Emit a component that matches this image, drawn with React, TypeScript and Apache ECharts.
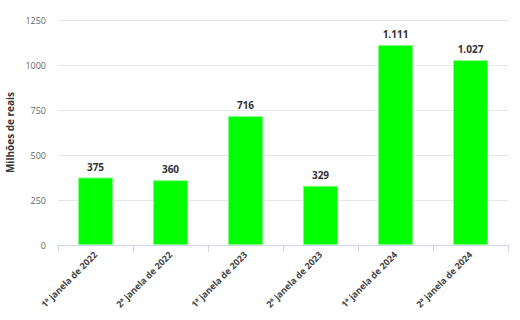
import React, { useEffect, useRef } from "react";
import * as echarts from "echarts";

const categories = [
  "1ª janela de 2022",
  "2ª janela de 2022",
  "1ª janela de 2023",
  "2ª janela de 2023",
  "1ª janela de 2024",
  "2ª janela de 2024",
];
const values = [375, 360, 716, 329, 1111, 1027];
const valueLabels = ["375", "360", "716", "329", "1.111", "1.027"];
const yTicks = [0, 250, 500, 750, 1000, 1250];

export default function App() {
  const ref = useRef<HTMLDivElement>(null);
  useEffect(() => {
    if (!ref.current) return;
    const chart = echarts.init(ref.current, null, { renderer: "svg" });
    const font = "'Open Sans', 'Noto Sans', sans-serif";
    chart.setOption({
      animation: false,
      textStyle: { fontFamily: font },
      grid: {
        left: 58,
        right: 12,
        top: 20,
        bottom: 75,
        containLabel: false,
        outerBoundsMode: "none",
      },
      xAxis: {
        type: "category",
        data: categories,
        axisLine: { lineStyle: { color: "#ccd6eb" } },
        axisTick: { show: true, length: 7, alignWithLabel: false, lineStyle: { color: "#ccd6eb" } },
        axisLabel: {
          rotate: 45,
          interval: 0,
          fontSize: 9,
          fontWeight: "bold",
          color: "#444",
          fontFamily: font,
          margin: 8,
        },
      },
      yAxis: {
        type: "value",
        min: yTicks[0],
        max: yTicks[yTicks.length - 1],
        interval: 250,
        name: "Milhões de reais",
        nameLocation: "middle",
        nameGap: 23,
        nameTextStyle: { fontSize: 10, fontWeight: "bold", color: "#333", fontFamily: font },
        axisLine: { show: false },
        axisTick: { show: false },
        splitLine: { lineStyle: { color: "#e6e6e6" } },
        axisLabel: {
          fontSize: 9,
          color: "#666",
          fontFamily: font,
          margin: 12,
          formatter: (v: number) => String(v),
        },
      },
      series: [
        {
          type: "bar",
          data: values,
          barWidth: 35,
          itemStyle: { color: "#00ff00", borderColor: "#80ff80", borderWidth: 1 },
          label: {
            show: true,
            position: "top",
            distance: 6,
            fontSize: 10,
            fontWeight: "bold",
            color: "#333",
            fontFamily: font,
            formatter: (p: any) => valueLabels[p.dataIndex],
          },
        },
      ],
    });
    return () => chart.dispose();
  }, []);
  return (
    <div
      ref={ref}
      style={{ position: "absolute", left: 0, top: 0, width: 520, height: 320, background: "#fff" }}
    />
  );
}
